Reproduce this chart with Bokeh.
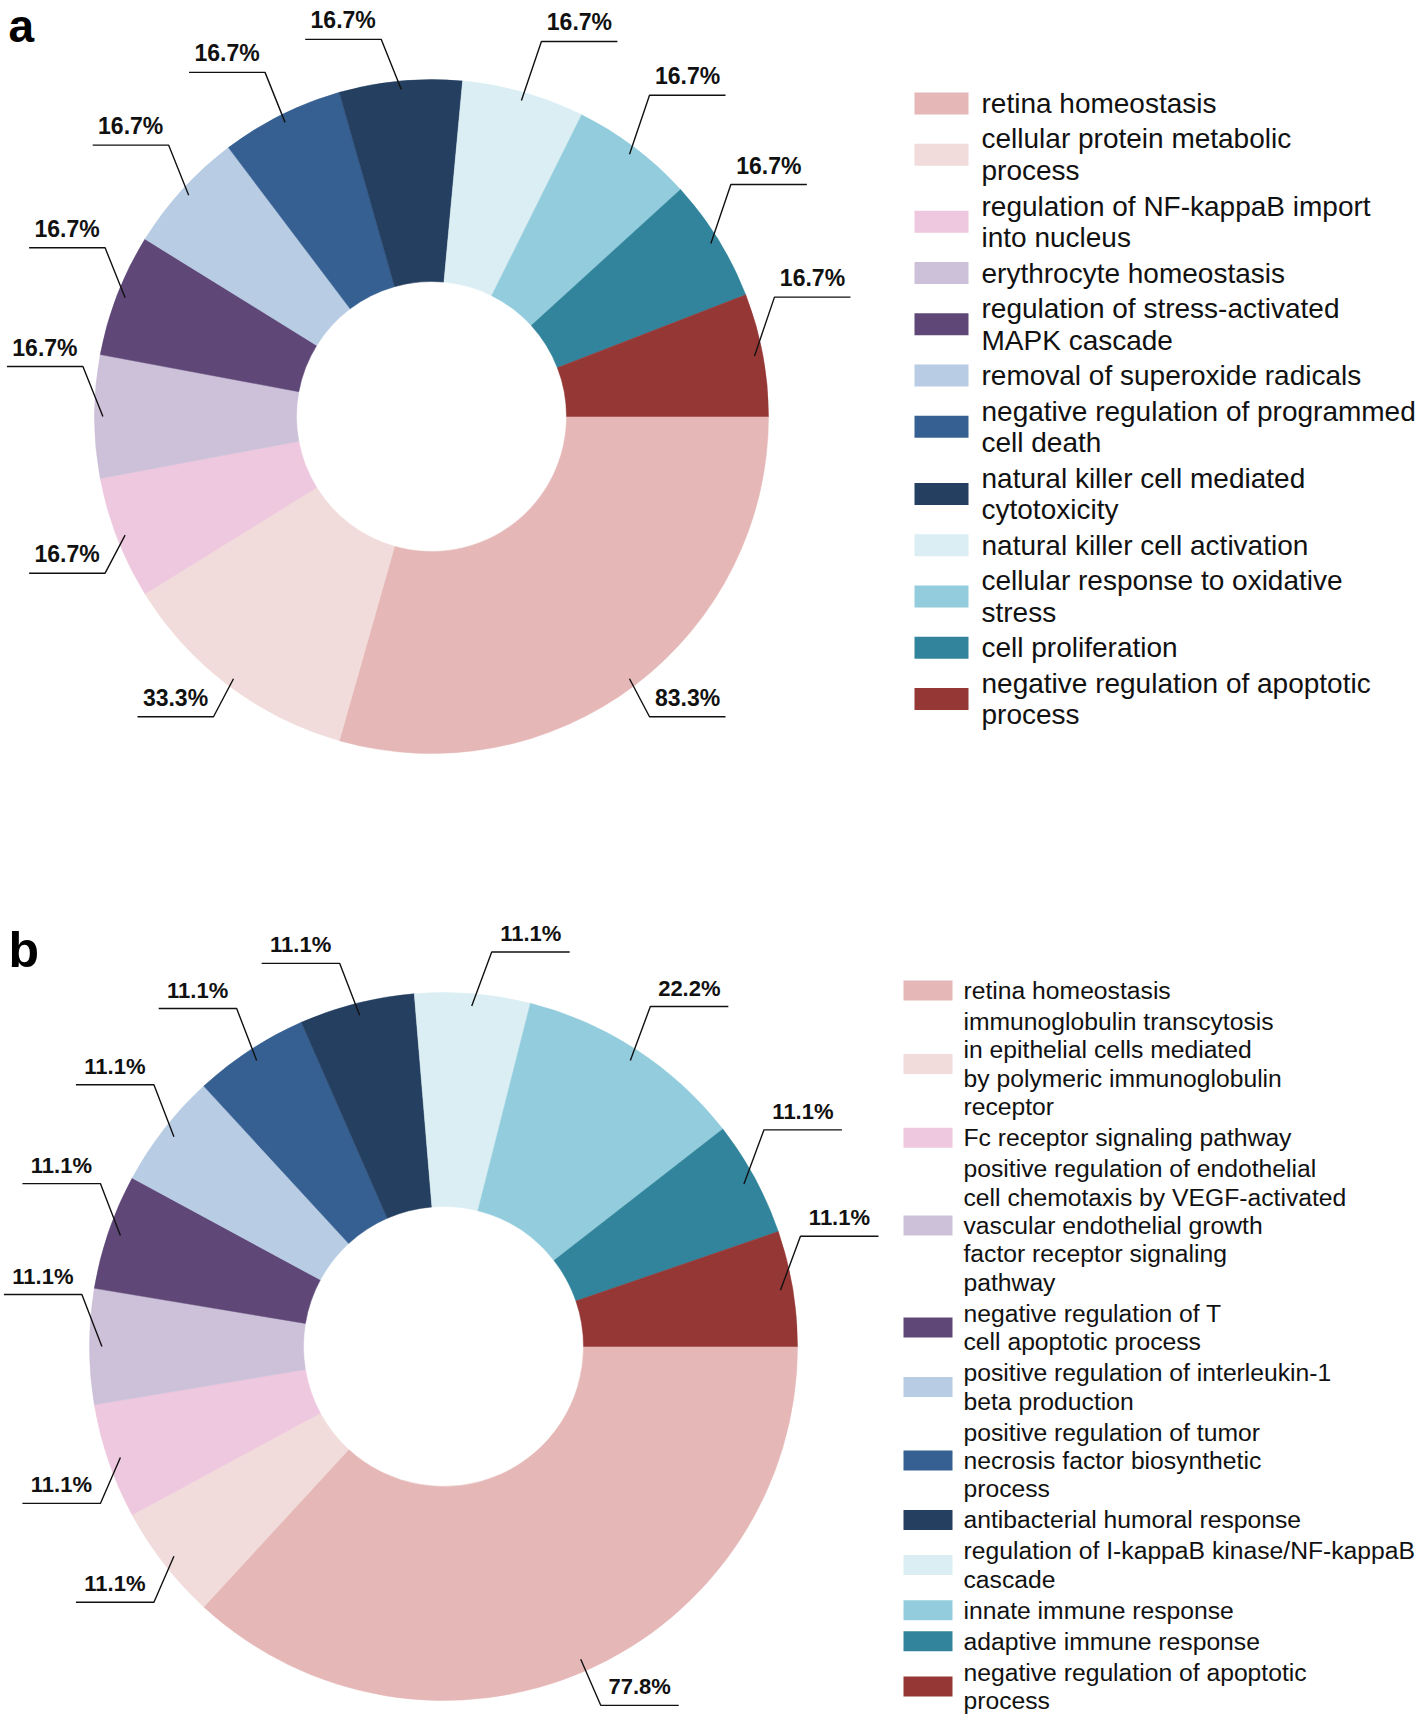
import numpy as np
from bokeh.plotting import figure
from bokeh.models import Range1d, ColumnDataSource
from bokeh.embed import file_html
from bokeh.resources import INLINE
from bokeh.core.properties import value

# ---------------- data ----------------
colors = ["#E5B8B7", "#F1DCDB", "#EEC8DE", "#CDC0D9", "#5F4878", "#B8CCE4",
          "#366092", "#243F60", "#DAEEF3", "#93CDDD", "#31849B", "#953735"]

a_terms = ["retina homeostasis",
           "cellular protein metabolic\nprocess",
           "regulation of NF-kappaB import\ninto nucleus",
           "erythrocyte homeostasis",
           "regulation of stress-activated\nMAPK cascade",
           "removal of superoxide radicals",
           "negative regulation of programmed\ncell death",
           "natural killer cell mediated\ncytotoxicity",
           "natural killer cell activation",
           "cellular response to oxidative\nstress",
           "cell proliferation",
           "negative regulation of apoptotic\nprocess"]
a_counts = [5, 2, 1, 1, 1, 1, 1, 1, 1, 1, 1, 1]
a_labels = ["83.3%", "33.3%", "16.7%", "16.7%", "16.7%", "16.7%",
            "16.7%", "16.7%", "16.7%", "16.7%", "16.7%", "16.7%"]

b_terms = ["retina homeostasis",
           "immunoglobulin transcytosis\nin epithelial cells mediated\nby polymeric immunoglobulin\nreceptor",
           "Fc receptor signaling pathway",
           "positive regulation of endothelial\ncell chemotaxis by VEGF-activated\nvascular endothelial growth\nfactor receptor signaling\npathway",
           "negative regulation of T\ncell apoptotic process",
           "positive regulation of interleukin-1\nbeta production",
           "positive regulation of tumor\nnecrosis factor biosynthetic\nprocess",
           "antibacterial humoral response",
           "regulation of I-kappaB kinase/NF-kappaB\ncascade",
           "innate immune response",
           "adaptive immune response",
           "negative regulation of apoptotic\nprocess"]
b_counts = [7, 1, 1, 1, 1, 1, 1, 1, 1, 2, 1, 1]
b_labels = ["77.8%", "11.1%", "11.1%", "11.1%", "11.1%", "11.1%",
            "11.1%", "11.1%", "11.1%", "22.2%", "11.1%", "11.1%"]

panel_tags = ["a", "b"]

# ---------------- figure ----------------
W, H = 1418, 1717
p = figure(width=W, height=H, output_backend="svg", toolbar_location=None,
           x_range=Range1d(0, W), y_range=Range1d(-H, 0),
           x_axis_type=None, y_axis_type=None, min_border=0)
p.outline_line_color = None
p.background_fill_color = "white"
p.xgrid.visible = False
p.ygrid.visible = False

LBL_FONT = value("Liberation Sans")


def donut(cx, cy, R, r, counts, labels, lbl_size, anchor_k, up_left, up_right, down_dy, hlen):
    counts = np.asarray(counts, dtype=float)
    frac = counts / counts.sum()
    cum = np.cumsum(frac)
    prev = np.concatenate([[0.0], cum[:-1]])
    start = -2 * np.pi * prev
    end = -2 * np.pi * cum
    src = ColumnDataSource(dict(start=end, end=start, color=colors))
    p.annular_wedge(x=cx, y=-cy, inner_radius=r, outer_radius=R,
                    start_angle="start", end_angle="end", direction="anticlock",
                    fill_color="color", line_color="color", line_width=0.5, source=src)
    mid = (start + end) / 2
    xs, ys, tx, ty = [], [], [], []
    for m in mid:
        sx = 1 if np.cos(m) > 0 else -1
        up = np.sin(m) > -1e-9
        ax = cx + anchor_k * R * np.cos(m)
        ay = -cy + anchor_k * R * np.sin(m)
        ex = ax + sx * 20
        if up:
            ey = ay + (up_right if sx > 0 else up_left)
        else:
            ey = ay - down_dy
        hx = ex + sx * hlen
        xs.append([ax, ex, hx])
        ys.append([ay, ey, ey])
        tx.append((ex + hx) / 2)
        ty.append(ey + 6)
    p.multi_line(xs=xs, ys=ys, line_color="#111111", line_width=1.4)
    p.text(x=tx, y=ty, text=labels, text_align="center", text_baseline="bottom",
           text_font=LBL_FONT, text_font_style="bold", text_font_size=f"{lbl_size}px",
           text_color="#111111")


def legend(terms, x_sw, sw_w, sw_h, x_txt, y0, lh, gap, size):
    rx, ry, tx, ty, tt = [], [], [], [], []
    y = y0
    for t in terms:
        lines = t.split("\n")
        n = len(lines)
        for i, ln in enumerate(lines):
            tx.append(x_txt)
            ty.append(-(y + i * lh))
            tt.append(ln)
        ymid = y + (n - 1) * lh / 2
        rx.append(x_sw + sw_w / 2)
        ry.append(-ymid)
        y += n * lh + gap
    p.rect(x=rx, y=ry, width=sw_w, height=sw_h, fill_color=colors, line_color=None)
    p.text(x=tx, y=ty, text=tt, text_align="left", text_baseline="middle",
           text_font=LBL_FONT, text_font_size=f"{size}px", text_color="#111111")


# panel a
donut(431, 416, 337, 135, a_counts, a_labels, 23, 0.975, 50, 59, 38, 76)
legend(a_terms, 914, 54, 22, 981, 103, 31.7, 3.7, 28)
# panel b
donut(443, 1346, 354, 140, b_counts, b_labels, 22, 0.965, 52, 54, 46, 78)
legend(b_terms, 903, 49, 20, 963, 990, 28.4, 2.6, 24.7)

p.text(x=[8], y=[-25], text=[panel_tags[0]], text_align="left",
       text_baseline="middle", text_font=LBL_FONT, text_font_style="bold",
       text_font_size="46px", text_color="black")
p.text(x=[8], y=[-949], text=[panel_tags[1]], text_align="left",
       text_baseline="middle", text_font=LBL_FONT, text_font_style="bold",
       text_font_size="50px", text_color="black")

open("out.html", "w").write(file_html(p, INLINE))
